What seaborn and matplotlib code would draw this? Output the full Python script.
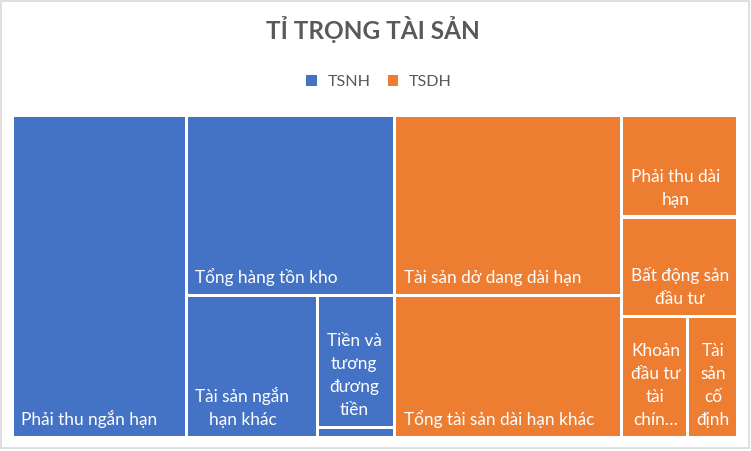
import matplotlib
matplotlib.use("Agg")
import matplotlib.pyplot as plt
from matplotlib.patches import Rectangle, Patch
import seaborn as sns

# ---------------- data ----------------
groups = ["TSNH", "TSDH"]

tsnh_items = ["Phải thu ngắn hạn", "Tổng hàng tồn kho", "Tài sản ngắn hạn khác",
              "Tiền và tương đương tiền", "Đầu tư tài chính ngắn hạn"]
tsnh_values = [24.00, 16.10, 7.95, 4.34, 0.34]
tsnh_labels = ["Phải thu ngắn hạn", "Tổng hàng tồn kho", "Tài sản ngắn\nhạn khác",
               "Tiền và\ntương\nđương\ntiền", ""]

tsdh_items = ["Tài sản dở dang dài hạn", "Tổng tài sản dài hạn khác", "Phải thu dài hạn",
              "Bất động sản đầu tư", "Khoản đầu tư tài chính dài hạn", "Tài sản cố định"]
tsdh_values = [17.52, 13.78, 5.06, 4.91, 3.41, 2.61]
tsdh_labels = ["Tài sản dở dang dài hạn", "Tổng tài sản dài hạn khác", "Phải thu dài\nhạn",
               "Bất động sản\nđầu tư", "Khoản\nđầu tư\ntài\nchín…", "Tài\nsản\ncố\nđịnh"]

title_text = "TỈ TRỌNG TÀI SẢN"

# ---------------- style ----------------
sns.set_theme(style="white")
plt.rcParams["font.family"] = ["Lato", "DejaVu Sans"]
palette = sns.color_palette(["#4472C4", "#ED7D31"])
TEXT_GRAY = "#595959"

W_PX, H_PX = 751, 451
fig = plt.figure(figsize=(W_PX / 100, H_PX / 100), dpi=100)
ax = fig.add_axes([0, 0, 1, 1])
ax.set_xlim(0, W_PX)
ax.set_ylim(H_PX, 0)
ax.axis("off")

# plot region of the treemap (pixel space)
RX, RY, RW, RH = 12.35, 115.05, 725.3, 322.6
GAP = 3.3
WIDE_BIAS = 0.9


def worst(row, side):
    s = sum(row)
    return max(max(side * side * r / (s * s), (s * s) / (side * side * r)) for r in row)


def squarify(vals, x, y, w, h):
    total = sum(vals)
    vals = [v * w * h / total for v in vals]
    rects = []
    while vals:
        wide = w >= WIDE_BIAS * h
        side = h if wide else w
        row = [vals[0]]
        i = 1
        while i < len(vals) and worst(row + [vals[i]], side) <= worst(row, side):
            row.append(vals[i])
            i += 1
        s = sum(row)
        if wide:
            cw = s / h
            yy = y
            for r in row:
                rh = r / cw
                rects.append((x, yy, cw, rh))
                yy += rh
            x += cw
            w -= cw
        else:
            rh = s / w
            xx = x
            for r in row:
                rw = r / rh
                rects.append((xx, y, rw, rh))
                xx += rw
            y += rh
            h -= rh
        vals = vals[i:]
    return rects


group_rects = squarify([sum(tsnh_values), sum(tsdh_values)], RX, RY, RW, RH)

renderer = fig.canvas.get_renderer()
FS = 12.4
LINE_H = 23.0
PAD_X = 7.4
PAD_B = 10.8

for (gx, gy, gw, gh), vals, labels, color in zip(
        group_rects, [tsnh_values, tsdh_values], [tsnh_labels, tsdh_labels], palette):
    rects = squarify(vals, gx, gy, gw, gh)
    for (x, y, w, h), lab in zip(rects, labels):
        ax.add_patch(Rectangle((x + GAP / 2, y + GAP / 2), w - GAP, h - GAP,
                               facecolor=color, edgecolor="none"))
        if not lab:
            continue
        lines = lab.split("\n")
        texts = []
        widths = []
        for ln in lines:
            t = ax.text(0, 0, ln, color="white", fontsize=FS, ha="center", va="baseline")
            texts.append(t)
            widths.append(t.get_window_extent(renderer).width)
        bw = max(widths)
        cx = x + GAP / 2 + PAD_X + bw / 2
        base = y + h - GAP / 2 - PAD_B
        n = len(lines)
        for i, t in enumerate(texts):
            t.set_position((cx, base - (n - 1 - i) * LINE_H))

# title
ax.text(373, 39.3, title_text, ha="center", va="baseline", fontsize=17.6,
        fontweight="bold", color=TEXT_GRAY)

# legend
handles = [Patch(facecolor=c, edgecolor="none", label=g) for g, c in zip(groups, palette)]
leg = fig.legend(handles=handles, loc="center", bbox_to_anchor=(379 / W_PX, 1 - 82 / H_PX),
                 ncol=2, frameon=False, fontsize=11.6, handlelength=0.68, handleheight=0.68,
                 handletextpad=0.65, columnspacing=1.05, labelcolor=TEXT_GRAY)

# chart border
ax.add_patch(Rectangle((0.8, 0.8), 748.2, 447.4, facecolor="none",
                       edgecolor="#D9D9D9", linewidth=1.2))

fig.savefig("out.png", dpi=100)
